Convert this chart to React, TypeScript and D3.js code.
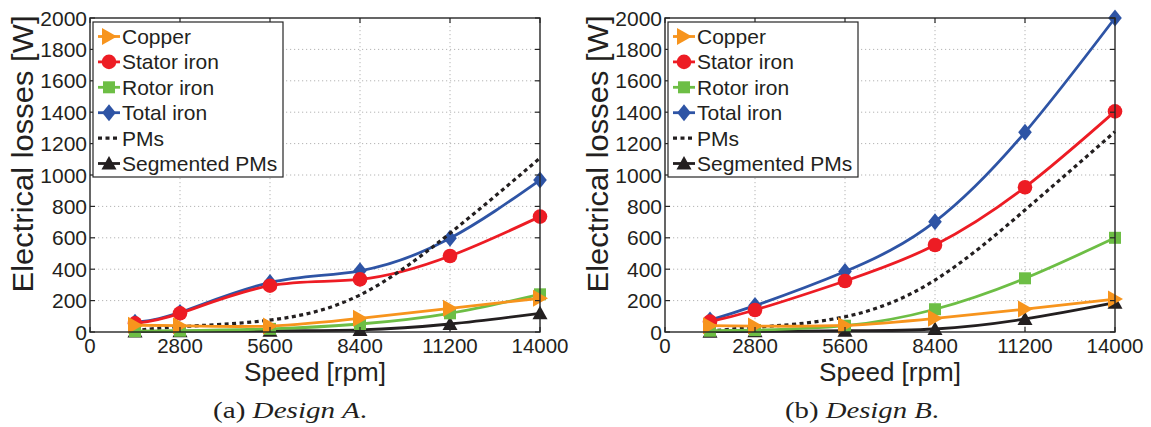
import React from "react";
import * as d3 from "d3";

const speeds = [1400, 2800, 5600, 8400, 11200, 14000];
const xTicks = [0, 2800, 5600, 8400, 11200, 14000];
const yTicks = [0, 200, 400, 600, 800, 1000, 1200, 1400, 1600, 1800, 2000];

const copperA = [43, 40, 38, 87, 151, 215];
const statorA = [55, 119, 295, 335, 484, 735];
const rotorA = [5, 8, 20, 51, 119, 240];
const totalA = [62, 125, 315, 390, 597, 968];
const pmsA = [8, 34, 76, 236, 629, 1108];
const segA = [3, 5, 8, 13, 51, 119];

const copperB = [40, 38, 42, 87, 146, 210];
const statorB = [66, 140, 325, 554, 922, 1405];
const rotorB = [8, 12, 40, 145, 342, 600];
const totalB = [76, 168, 385, 703, 1272, 2000];
const pmsB = [5, 30, 97, 331, 777, 1276];
const segB = [2, 4, 8, 19, 83, 187];

const legendLabels = ["Copper", "Stator iron", "Rotor iron", "Total iron", "PMs", "Segmented PMs"];

const C = {
  copper: "#F7941D",
  stator: "#ED1C24",
  rotor: "#6DBE45",
  total: "#2E54A5",
  black: "#231F20",
};

const SANS = "'Liberation Sans', Arial, Helvetica, sans-serif";

type Kind = "right" | "circle" | "square" | "diamond" | "up" | "none";

function Marker({ kind, x, y, color }: { kind: Kind; x: number; y: number; color: string }) {
  if (kind === "circle") return <circle cx={x} cy={y} r={7.3} fill={color} />;
  if (kind === "square") return <rect x={x - 6} y={y - 6} width={12} height={12} fill={color} />;
  if (kind === "diamond")
    return <path d={`M${x},${y - 8.5}L${x + 6.8},${y}L${x},${y + 8.5}L${x - 6.8},${y}Z`} fill={color} />;
  if (kind === "right")
    return <path d={`M${x - 7},${y - 8.5}L${x + 8},${y}L${x - 7},${y + 8.5}Z`} fill={color} />;
  if (kind === "up")
    return <path d={`M${x},${y - 7.5}L${x + 7.5},${y + 6}L${x - 7.5},${y + 6}Z`} fill={color} />;
  return null;
}

type Series = { name: string; values: number[]; color: string; kind: Kind; dashed?: boolean };

function Panel({
  left,
  copper,
  stator,
  rotor,
  total,
  pms,
  seg,
  caption,
  captionLetter,
  captionX,
}: {
  left: number;
  copper: number[];
  stator: number[];
  rotor: number[];
  total: number[];
  pms: number[];
  seg: number[];
  caption: string;
  captionLetter: string;
  captionX: number;
}) {
  const top = 18;
  const bottom = 332;
  const width = 450;
  const x = d3.scaleLinear().domain([0, 14000]).range([left, left + width]);
  const y = d3.scaleLinear().domain([0, 2000]).range([bottom, top]);

  const legendSeries: Series[] = [
    { name: legendLabels[0], values: copper, color: C.copper, kind: "right" },
    { name: legendLabels[1], values: stator, color: C.stator, kind: "circle" },
    { name: legendLabels[2], values: rotor, color: C.rotor, kind: "square" },
    { name: legendLabels[3], values: total, color: C.total, kind: "diamond" },
    { name: legendLabels[4], values: pms, color: C.black, kind: "none", dashed: true },
    { name: legendLabels[5], values: seg, color: C.black, kind: "up" },
  ];
  const drawOrder = [3, 1, 4, 5, 2, 0].map((i) => legendSeries[i]);

  const line = d3
    .line<number>()
    .x((_, i) => x(speeds[i]))
    .y((v) => y(v))
    .curve(d3.curveNatural);

  const right = left + width;
  const lgX = left + 3;
  const lgY = 22;
  const lgW = 190;
  const lgH = 155;
  const rowH = 25.4;

  return (
    <g>
      {xTicks.slice(1, -1).map((t) => (
        <line key={"gx" + t} x1={x(t)} x2={x(t)} y1={top} y2={bottom} stroke="#b4b4b4" strokeWidth={1} strokeDasharray="1.2,2.8" />
      ))}
      {yTicks.slice(1, -1).map((t) => (
        <line key={"gy" + t} x1={left} x2={right} y1={y(t)} y2={y(t)} stroke="#b4b4b4" strokeWidth={1} strokeDasharray="1.2,2.8" />
      ))}
      {drawOrder.map((s) => (
        <g key={s.name}>
          <path
            d={line(s.values) || ""}
            fill="none"
            stroke={s.color}
            strokeWidth={s.dashed ? 3.2 : 2.8}
            strokeDasharray={s.dashed ? "4,3.5" : undefined}
          />
          {s.values.map((v, i) => (
            <Marker key={i} kind={s.kind} x={x(speeds[i])} y={y(v)} color={s.color} />
          ))}
        </g>
      ))}
      <rect x={left} y={top} width={width} height={bottom - top} fill="none" stroke="#262626" strokeWidth={1.4} />
      {xTicks.map((t) => (
        <g key={"tx" + t}>
          <line x1={x(t)} x2={x(t)} y1={bottom} y2={bottom - 5} stroke="#262626" strokeWidth={1.2} />
          <line x1={x(t)} x2={x(t)} y1={top} y2={top + 5} stroke="#262626" strokeWidth={1.2} />
          <text x={x(t)} y={353} textAnchor="middle" fontFamily={SANS} fontSize={20.5} fill="#231F20">
            {t}
          </text>
        </g>
      ))}
      {yTicks.map((t) => (
        <g key={"ty" + t}>
          <line x1={left} x2={left + 5} y1={y(t)} y2={y(t)} stroke="#262626" strokeWidth={1.2} />
          <line x1={right} x2={right - 5} y1={y(t)} y2={y(t)} stroke="#262626" strokeWidth={1.2} />
          <text x={left - 3} y={y(t) + 7.5} textAnchor="end" fontFamily={SANS} fontSize={21} fill="#231F20">
            {t}
          </text>
        </g>
      ))}
      <text
        x={(left + right) / 2}
        y={381}
        textAnchor="middle"
        fontFamily={SANS}
        fontSize={25}
        fill="#231F20"
        textLength={142}
        lengthAdjust="spacingAndGlyphs"
      >
        Speed [rpm]
      </text>
      <text
        transform={`translate(${left - 57},154) rotate(-90)`}
        textAnchor="middle"
        fontFamily={SANS}
        fontSize={29}
        fill="#231F20"
        textLength={277}
        lengthAdjust="spacingAndGlyphs"
      >
        Electrical losses [W]
      </text>
      <rect x={lgX} y={lgY} width={lgW} height={lgH} fill="#fff" stroke="#262626" strokeWidth={1.2} />
      {legendSeries.map((s, i) => {
        const cy = 36.5 + i * rowH;
        const x0 = lgX + 5;
        const x1 = lgX + 27;
        return (
          <g key={"lg" + s.name}>
            <line
              x1={x0}
              x2={x1}
              y1={cy}
              y2={cy}
              stroke={s.color}
              strokeWidth={s.dashed ? 3.2 : 2.8}
              strokeDasharray={s.dashed ? "4,3.5" : undefined}
            />
            <Marker kind={s.kind} x={(x0 + x1) / 2} y={cy} color={s.color} />
            <text x={lgX + 29} y={cy + 7.5} fontFamily={SANS} fontSize={21} fill="#231F20">
              {s.name}
            </text>
          </g>
        );
      })}
      <text
        x={captionX}
        y={418}
        textAnchor="middle"
        fontFamily="'Liberation Serif', 'Times New Roman', serif"
        fontSize={24}
        fill="#231F20"
        textLength={154}
        lengthAdjust="spacingAndGlyphs"
      >
        {captionLetter}{" "}
        <tspan fontStyle="italic">{caption}</tspan>.
      </text>
    </g>
  );
}

export default function App() {
  return (
    <svg width={1151} height={427} style={{ position: "absolute", left: 0, top: 0, background: "#fff" }}>
      <rect x={0} y={0} width={1151} height={427} fill="#fff" />
      <Panel
        left={90}
        copper={copperA}
        stator={statorA}
        rotor={rotorA}
        total={totalA}
        pms={pmsA}
        seg={segA}
        caption="Design A"
        captionLetter="(a)"
        captionX={290}
      />
      <Panel
        left={665}
        copper={copperB}
        stator={statorB}
        rotor={rotorB}
        total={totalB}
        pms={pmsB}
        seg={segB}
        caption="Design B"
        captionLetter="(b)"
        captionX={862}
      />
    </svg>
  );
}
